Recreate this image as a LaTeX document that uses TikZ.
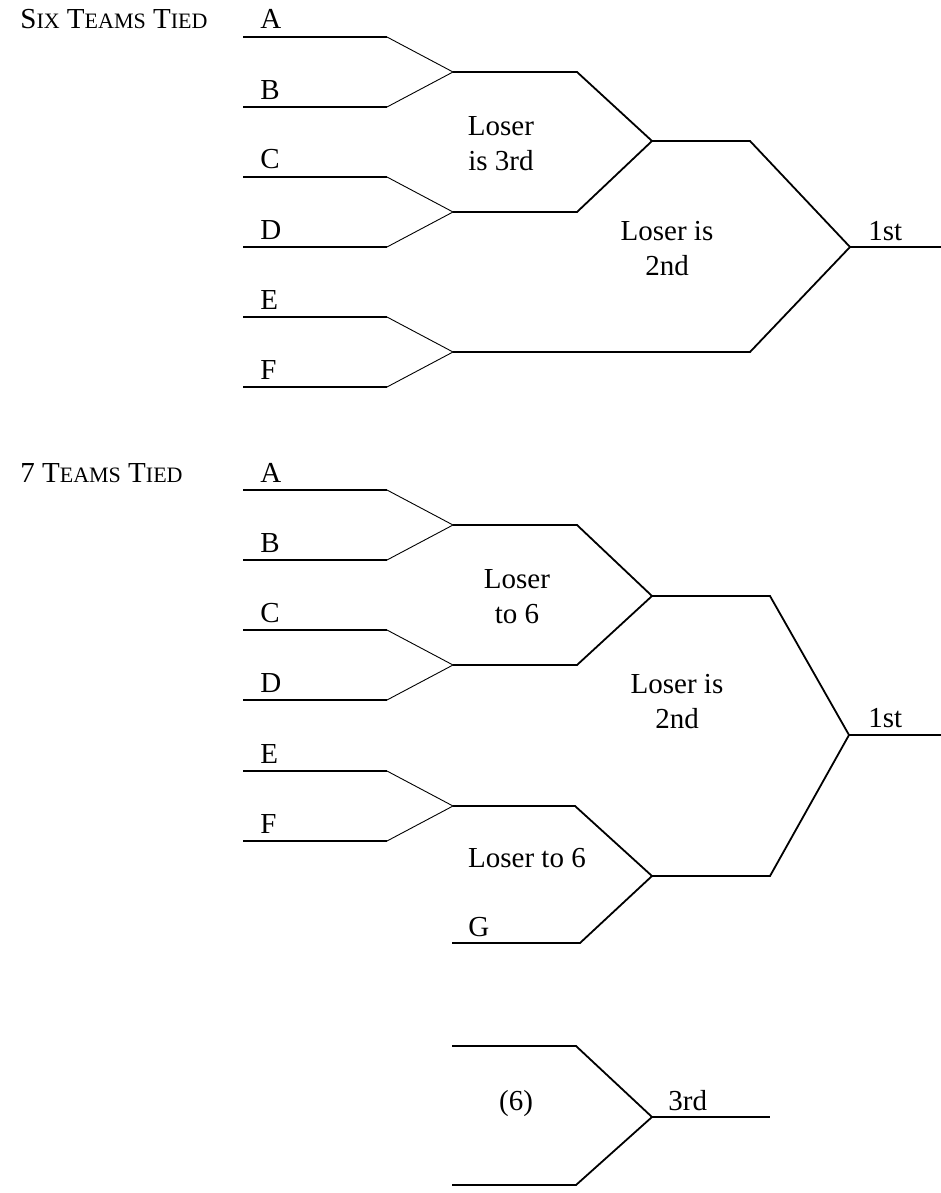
\documentclass[tikz,border=0pt]{standalone}
\usepackage{fontspec}
\setmainfont{Liberation Serif}
\newcommand{\smc}[1]{{\fontsize{11}{13}\selectfont #1}}
\tikzset{
  wire/.style={line width=0.9pt},
  feed/.style={line width=0.45pt},
  team/.style={anchor=base west},
  loser/.style={anchor=north, align=center},
}

\begin{document}
\begin{tikzpicture}[x=0.5pt, y=-0.5pt,
    every node/.style={font=\fontsize{14.5}{17.5}\selectfont, inner sep=0pt}]
    \useasboundingbox (0,0) rectangle (941,1193);
    % six teams
    \node[team] (six) at (20,29) {S\smc{IX} T\smc{EAMS} T\smc{IED}};
    \coordinate (sA) at (243,37);  \coordinate (sAe) at (387,37);
    \coordinate (sB) at (243,107); \coordinate (sBe) at (387,107);
    \coordinate (sC) at (243,177); \coordinate (sCe) at (387,177);
    \coordinate (sD) at (243,247); \coordinate (sDe) at (387,247);
    \coordinate (sE) at (243,317); \coordinate (sEe) at (387,317);
    \coordinate (sF) at (243,387); \coordinate (sFe) at (387,387);
    \node[team] (sa) at (260,29) {A};
    \node[team] (sb) at (260,99) {B};
    \node[team] (sc) at (260,169) {C};
    \node[team] (sd) at (260,239) {D};
    \node[team] (se) at (260,309) {E};
    \node[team] (sf) at (260,379) {F};
    \draw[wire] (sA) -- (sAe);
    \draw[wire] (sB) -- (sBe);
    \draw[wire] (sC) -- (sCe);
    \draw[wire] (sD) -- (sDe);
    \draw[wire] (sE) -- (sEe);
    \draw[wire] (sF) -- (sFe);
    \coordinate (sAB) at (453,72);
    \coordinate (sCD) at (453,212);
    \coordinate (sEF) at (453,352);
    \draw[feed] (sAe) -- (sAB) -- (sBe);
    \draw[feed] (sCe) -- (sCD) -- (sDe);
    \draw[feed] (sEe) -- (sEF) -- (sFe);
    \coordinate (sABe) at (577,72);
    \coordinate (sCDe) at (577,212);
    \coordinate (sSemi) at (652,141);
    \coordinate (sSemie) at (750,141);
    \coordinate (sEFe) at (750,352);
    \coordinate (sWin) at (850,247);
    \coordinate (sEnd) at (941,247);
    \draw[wire] (sAB) -- (sABe) -- (sSemi) -- (sCDe) -- (sCD);
    \draw[wire] (sSemi) -- (sSemie) -- (sWin) -- (sEFe) -- (sEF);
    \draw[wire] (sWin) -- (sEnd);
    \node[loser] (sThird) at (501,116) {Loser\\is 3rd};
    \node[loser] (sSecond) at (667,221) {Loser is\\2nd};
    \node[team] (sFirst) at (868,240) {1st};
    % seven teams
    \node[team] (seven) at (20,482) {7 T\smc{EAMS} T\smc{IED}};
    \coordinate (tA) at (243,490); \coordinate (tAe) at (387,490);
    \coordinate (tB) at (243,560); \coordinate (tBe) at (387,560);
    \coordinate (tC) at (243,630); \coordinate (tCe) at (387,630);
    \coordinate (tD) at (243,700); \coordinate (tDe) at (387,700);
    \coordinate (tE) at (243,771); \coordinate (tEe) at (387,771);
    \coordinate (tF) at (243,841); \coordinate (tFe) at (387,841);
    \node[team] (ta) at (260,482) {A};
    \node[team] (tb) at (260,552) {B};
    \node[team] (tc) at (260,622) {C};
    \node[team] (td) at (260,692) {D};
    \node[team] (te) at (260,763) {E};
    \node[team] (tf) at (260,833) {F};
    \draw[wire] (tA) -- (tAe);
    \draw[wire] (tB) -- (tBe);
    \draw[wire] (tC) -- (tCe);
    \draw[wire] (tD) -- (tDe);
    \draw[wire] (tE) -- (tEe);
    \draw[wire] (tF) -- (tFe);
    \coordinate (tAB) at (453,525);
    \coordinate (tCD) at (453,665);
    \coordinate (tEF) at (453,806);
    \draw[feed] (tAe) -- (tAB) -- (tBe);
    \draw[feed] (tCe) -- (tCD) -- (tDe);
    \draw[feed] (tEe) -- (tEF) -- (tFe);
    \coordinate (tG) at (452,943); \coordinate (tGe) at (580,943);
    \node[team] (tg) at (468,936) {G};
    \coordinate (tABe) at (577,525);
    \coordinate (tCDe) at (577,665);
    \coordinate (tEFe) at (575,806);
    \coordinate (tUp) at (652,596);
    \coordinate (tUpe) at (770,596);
    \coordinate (tLow) at (652,876);
    \coordinate (tLowe) at (770,876);
    \coordinate (tWin) at (849,735);
    \coordinate (tEnd) at (941,735);
    \draw[wire] (tAB) -- (tABe) -- (tUp) -- (tCDe) -- (tCD);
    \draw[wire] (tEF) -- (tEFe) -- (tLow) -- (tGe) -- (tG);
    \draw[wire] (tUp) -- (tUpe) -- (tWin) -- (tLowe) -- (tLow);
    \draw[wire] (tWin) -- (tEnd);
    \node[loser] (tSixA) at (517,569) {Loser\\to 6};
    \node[loser] (tSecond) at (677,674) {Loser is\\2nd};
    \node[anchor=base] (tSixB) at (527,867) {Loser to 6};
    \node[team] (tFirst) at (868,727) {1st};
    % playoff for third
    \coordinate (pTop) at (452,1046); \coordinate (pTope) at (576,1046);
    \coordinate (pBot) at (452,1185); \coordinate (pBote) at (576,1185);
    \coordinate (pWin) at (652,1117); \coordinate (pEnd) at (770,1117);
    \draw[wire] (pTop) -- (pTope) -- (pWin) -- (pBote) -- (pBot);
    \draw[wire] (pWin) -- (pEnd);
    \node[anchor=base] (pSix) at (516,1110) {(6)};
    \node[team] (pThird) at (668,1110) {3rd};
\end{tikzpicture}
\end{document}
